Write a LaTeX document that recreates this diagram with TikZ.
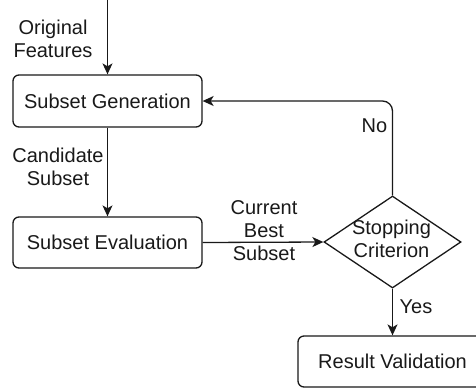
\documentclass[tikz,border=0pt]{standalone}
\usepackage{fontspec}
\setmainfont{Liberation Sans}
\usetikzlibrary{shapes.geometric,arrows.meta}
\tikzset{
  box/.style={draw, rounded corners=6pt, minimum width=189pt, inner sep=0pt},
  dia/.style={draw, diamond, minimum width=137pt, minimum height=92pt, inner sep=0pt},
  lbl/.style={align=center, inner sep=0pt},
  conn/.style={-{Stealth[length=11pt,width=10pt,inset=3pt]}},
}
\begin{document}
\begin{tikzpicture}[x=1pt,y=-1pt, line width=1.3pt, font=\fontsize{20}{23}\selectfont, color=black!90]
\useasboundingbox (0,0) rectangle (476,389);
\clip (0,0) rectangle (476,389);
\node[box, minimum height=52pt] (gen) at (107.5,101) {Subset Generation};
\node[box, minimum height=51pt] (eval) at (107.5,242.5) {Subset Evaluation};
\node[box, minimum height=51pt] (res) at (392.5,361.5) {Result Validation};
\node[dia] (stop) at (392.5,242) {};
\node[lbl] (stoptext) at (391.5,238.5) {Stopping\\Criterion};
\coordinate (in) at (107.5,0);
\coordinate (corner) at (392.5,101);
\draw[conn] (in) -- (gen.north);
\draw[conn] (gen.south) -- (eval.north);
\draw[conn] (eval.east) -- (stop.west);
\draw[conn, rounded corners=10pt] (stop.north) -- (corner) -- (gen.east);
\draw[conn] (stop.south) -- (res.north);
\node[lbl] (orig) at (53,39) {Original\\Features};
\node[lbl] (cand) at (58,166.5) {Candidate\\Subset};
\node[lbl] (cur) at (264,231) {Current\\Best\\Subset};
\node[lbl] (no) at (374.5,126) {No};
\node[lbl] (yes) at (416,307) {Yes};
\end{tikzpicture}
\end{document}
